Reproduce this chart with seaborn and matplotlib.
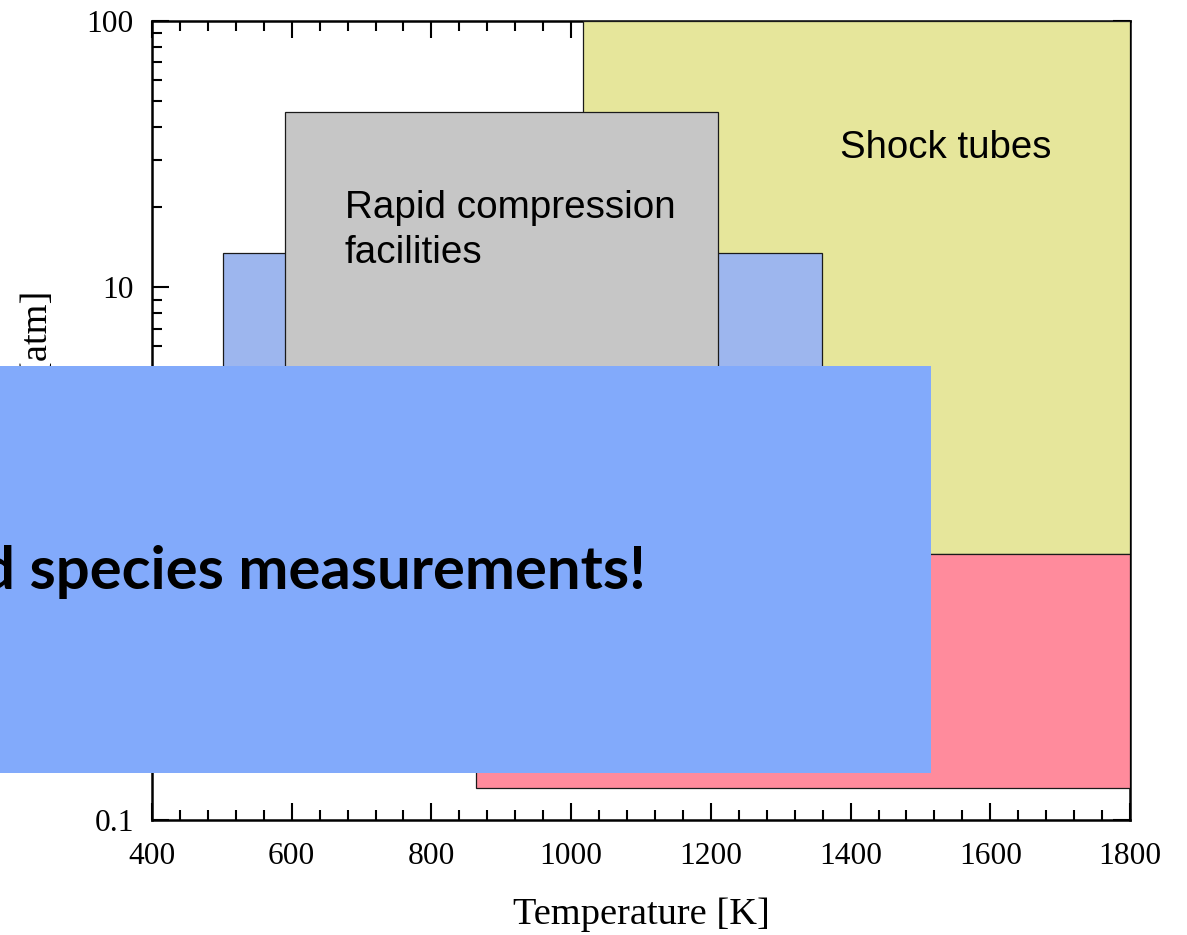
import matplotlib
matplotlib.use("Agg")
import matplotlib.pyplot as plt
import seaborn as sns
import pandas as pd
from matplotlib.patches import Rectangle
from matplotlib.ticker import FixedLocator, MultipleLocator, LogLocator, NullFormatter

# ---------------- data ----------------
facilities = ["Shock tubes", "Flow reactors", "Jet-stirred reactors", "Rapid compression facilities"]
t_min = [1017, 864, 502, 590]          # K
t_max = [1800, 1800, 1359, 1210]       # K
p_min = [1.0, 0.132, 1.0, 1.0]         # atm
p_max = [100.0, 1.0, 13.5, 45.6]       # atm
box_colors = ["#E6E69B", "#FF8B9C", "#9DB6EE", "#C6C6C6"]

x_ticks = [400, 600, 800, 1000, 1200, 1400, 1600, 1800]
y_ticks = [0.1, 1, 10, 100]
y_tick_labels = ["0.1", "1", "10", "100"]

x_label = "Temperature [K]"
y_label = "Pressure [atm]"
overlay_text = "d species measurements!"

df = pd.DataFrame({"facility": facilities, "t_min": t_min, "t_max": t_max,
                   "p_min": p_min, "p_max": p_max})

# ---------------- style ----------------
sns.set_theme(style="ticks")
plt.rcParams["font.family"] = ["Liberation Serif", "DejaVu Serif"]
palette = sns.color_palette(box_colors)

W, H = 1187, 935
fig = plt.figure(figsize=(W / 100, H / 100), dpi=100)
fig.patch.set_facecolor("white")
ax = fig.add_axes([152 / W, 1 - 820 / H, (1130 - 152) / W, (820 - 21) / H])
ax.set_facecolor("white")

ax.bar(df["t_min"], df["p_max"] - df["p_min"], width=df["t_max"] - df["t_min"],
       bottom=df["p_min"], align="edge", color=palette, edgecolor="#1a1a1a",
       linewidth=0.9, zorder=3)

ax.set_xscale("linear")
ax.set_yscale("log")
ax.set_xlim(400, 1800)
ax.set_ylim(0.1, 100)

ax.xaxis.set_major_locator(FixedLocator(x_ticks))
ax.xaxis.set_minor_locator(MultipleLocator(40))
ax.yaxis.set_major_locator(FixedLocator(y_ticks))
ax.set_yticklabels(y_tick_labels)
ax.yaxis.set_minor_locator(LogLocator(base=10, subs=[2, 3, 4, 5, 6, 7, 8, 9]))
ax.yaxis.set_minor_formatter(NullFormatter())

for s in ax.spines.values():
    s.set_linewidth(1.8)
    s.set_color("black")
    s.set_visible(True)

ax.tick_params(which="both", direction="in", top=True, right=True,
               color="black", width=1.5)
ax.tick_params(which="major", length=12)
ax.tick_params(which="minor", length=7)
ax.tick_params(axis="x", which="major", labelsize=22.7, pad=16, labelcolor="black")
ax.tick_params(axis="y", which="major", labelsize=22.7, pad=13, labelcolor="black")

ax.set_xlabel(x_label, fontsize=27.6, color="black", labelpad=19)
ax.set_ylabel(y_label, fontsize=27.6, color="black")
ax.yaxis.set_label_coords(-0.099, 0.523)

# annotations
sans = ["Liberation Sans", "DejaVu Sans"]
ax.text(1385, 30.6, "Shock tubes", fontsize=27.6, family=sans, color="black",
        ha="left", va="baseline", zorder=5)
ax.text(676, 12.36, "Rapid compression\nfacilities", fontsize=27.8, family=sans,
        color="black", ha="left", va="baseline", linespacing=1.31, zorder=5)

# overlay panel
fig.add_artist(Rectangle((0, 1 - 773 / H), 931 / W, (773 - 366) / H,
                         transform=fig.transFigure, facecolor="#82AAFB",
                         edgecolor="none", zorder=10))
bold_family = ["Lato", "Open Sans", "DejaVu Sans"]
fig.canvas.draw()
renderer = fig.canvas.get_renderer()
probe = fig.text(0.5, 0.5, "species measurements!", fontsize=44, fontweight="bold",
                 family=bold_family)
pw = probe.get_window_extent(renderer).width
probe.remove()
fs = 44 * 617 / pw
fig.text(646 / W, 1 - 589 / H, overlay_text, fontsize=fs, fontweight="bold",
         family=bold_family, color="black", ha="right", va="baseline", zorder=11)

fig.savefig("out.png", dpi=100, facecolor="white")
